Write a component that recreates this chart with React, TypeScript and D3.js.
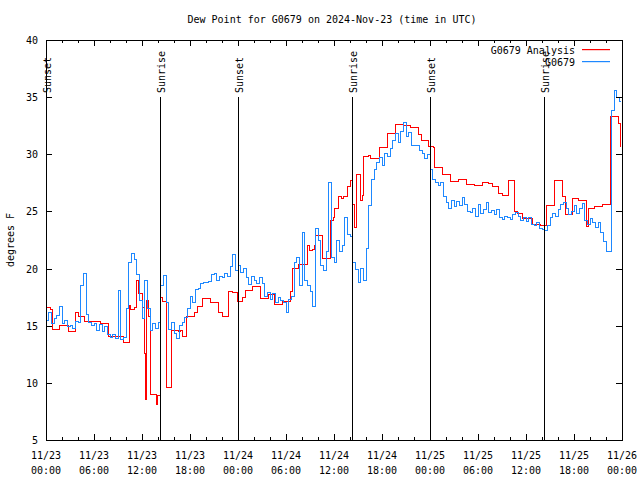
import React from "react";
import * as d3 from "d3";

// ---- data ----
const titleText = "Dew Point for G0679 on 2024-Nov-23 (time in UTC)";
const yLabelText = "degrees F";
const seriesNames = ["G0679 Analysis", "G0679"];
const seriesColors = ["#ff0000", "#1e88ff"];

const xTickHours = [0, 6, 12, 18, 24, 30, 36, 42, 48, 54, 60, 66, 72];
const xTickDates = ["11/23", "11/23", "11/23", "11/23", "11/24", "11/24", "11/24", "11/24", "11/25", "11/25", "11/25", "11/25", "11/26"];
const xTickTimes = ["00:00", "06:00", "12:00", "18:00", "00:00", "06:00", "12:00", "18:00", "00:00", "06:00", "12:00", "18:00", "00:00"];
const yTicks = [5, 10, 15, 20, 25, 30, 35, 40];

const sunLabels = ["Sunset", "Sunrise", "Sunset", "Sunrise", "Sunset", "Sunrise"];
const sunHours = [0, 14.25, 24, 38.25, 48, 62.25];

// observations, every 20 minutes starting 11/23 00:00
const obsStepHours = 1 / 3;
const obsValues = [
  15.5, 16.2, 15.2, 15.6, 15.9, 16.7, 15.2, 15.5, 14.9, 15.0, 14.8, 15.4,
  15.3, 18.5, 19.6, 16.0, 15.3, 15.0, 15.2, 14.6, 15.1, 14.5, 14.9, 14.2,
  14.0, 14.2, 13.9, 18.1, 13.8, 14.0, 16.5, 20.5, 21.3, 20.8, 19.5, 17.2,
  15.6, 19.0, 16.5, 14.6, 15.2, 14.8, 15.3, 18.5, 19.4, 17.0, 14.7, 15.3,
  14.3, 13.9, 15.0, 15.3, 15.7, 16.5, 17.6, 17.0, 18.2, 18.3, 18.7, 18.8,
  18.8, 18.9, 19.5, 19.6, 19.0, 19.3, 19.2, 19.6, 19.3, 20.2, 21.2, 19.8,
  20.3, 19.7, 20.0, 19.2, 18.6, 19.3, 19.0, 18.7, 19.2, 18.7, 17.6, 17.9,
  17.3, 17.8, 17.0, 17.5, 17.2, 17.0, 16.2, 17.3, 17.6, 20.5, 21.0, 18.5,
  23.2, 19.0, 18.5, 18.0, 16.7, 23.5, 22.5, 20.3, 19.8, 21.5, 27.5, 21.0,
  20.5, 22.5, 21.5, 22.0, 24.5, 23.0, 22.8, 20.5, 19.9, 18.8, 20.0, 19.0,
  21.8, 25.5, 27.8, 28.7, 29.3, 29.7, 29.0, 30.1, 29.8, 30.5, 31.2, 31.8,
  31.0, 32.0, 32.8, 31.6, 31.9, 30.8, 30.8, 30.8, 30.3, 30.1, 29.6, 30.0,
  28.7, 27.8, 27.5, 27.3, 27.5, 26.3, 25.8, 25.3, 26.0, 25.4, 25.9, 25.5,
  26.2, 25.6, 25.0, 24.9, 25.3, 24.6, 25.6, 24.8, 25.2, 25.8, 24.9, 25.1,
  24.7, 25.2, 24.5, 24.3, 24.6, 24.5, 24.3, 24.7, 24.9, 24.6, 24.2, 24.5,
  24.1, 24.5, 23.9, 23.8, 24.0, 23.5, 23.4, 23.3, 23.8, 24.5, 24.8, 24.6,
  25.2, 25.6, 25.8, 25.3, 24.7, 25.0, 25.5, 24.8, 25.3, 25.7, 24.2, 23.9,
  24.4, 24.0, 23.6, 24.0, 23.2, 22.4, 21.5, 21.5, 33.8, 35.6, 35.0, 34.6,
];
const obsEndHour = 71.9;

// analysis, value changes (hour since 11/23 00:00 -> value)
const analysisHours = [
  0, 0.5, 0.8, 1.67, 2.75, 3.7, 4.1, 4.8, 6.75, 7.75, 9.67, 10.4, 10.6, 11.0, 11.33, 11.6,
  12.0, 12.3, 12.45, 12.6, 12.8, 13.1, 13.75, 13.9, 14.33, 14.55, 15.1, 15.7, 16.5, 16.75,
  17.1, 17.6, 18.6, 18.9, 19.6, 20.5, 21.5, 22.1, 22.75, 23.25, 23.9, 24.6, 24.9, 25.75,
  26.75, 27.75, 28.6, 29.6, 30.5, 30.75, 31.5, 32.67, 32.9, 33.25, 33.5, 33.7, 34.6, 35.6,
  35.9, 36.1, 36.5, 36.95, 37.2, 37.65, 38.0, 38.3, 38.5, 38.8, 39.25, 39.5, 39.67, 40.3,
  40.5, 41.67, 42.67, 43.7, 44.67, 45.6, 46.6, 46.95, 47.8, 48.4, 48.6, 49.6, 50.6, 51.5,
  52.6, 53.6, 54.6, 55.25, 55.75, 56.6, 57.1, 57.75, 58.5, 58.9, 59.6, 60.75, 61.75, 62.6,
  63.6, 64.6, 64.9, 65.75, 66.6, 67.6, 67.75, 68.6, 69.6, 70.6, 71.5, 71.75, 71.9,
];
const analysisValues = [
  16.6, 16.45, 14.7, 15.0, 14.5, 16.2, 15.85, 15.35, 15.2, 14.1, 13.55, 16.8, 16.4, 16.6, 19.0, 17.8,
  16.6, 12.6, 8.55, 17.25, 15.8, 9.0, 8.15, 8.9, 17.5, 17.1, 9.6, 14.6, 14.5, 14.6,
  14.1, 15.8, 16.2, 16.7, 17.4, 17.0, 16.2, 15.85, 18.0, 17.9, 17.1, 17.5, 18.1, 18.4,
  17.4, 17.7, 16.9, 17.1, 18.0, 20.0, 20.4, 22.0, 21.6, 21.7, 22.0, 22.9, 20.9, 24.25,
  24.5, 25.3, 26.3, 26.1, 26.35, 27.2, 27.7, 25.6, 23.6, 28.2, 26.0, 26.4, 29.8, 29.9,
  29.65, 30.6, 31.8, 32.6, 32.5, 32.35, 31.7, 31.2, 30.65, 30.6, 28.85, 28.2, 27.6, 27.8,
  27.4, 27.3, 27.55, 27.45, 27.2, 26.6, 26.4, 27.75, 25.0, 24.8, 24.4, 23.9, 23.8, 25.5,
  27.75, 26.3, 24.7, 26.15, 26.0, 23.7, 25.3, 25.4, 25.65, 33.3, 32.7, 30.65, 30.65,
];

// ---- layout ----
const W = 640;
const H = 480;
const M = { left: 46, right: 622, top: 40, bottom: 440 };
const FONT = "'DejaVu Sans Mono', monospace";
const FS = 10;

export default function App() {
  const x = d3.scaleLinear().domain([0, 72]).range([M.left, M.right]);
  const y = d3.scaleLinear().domain([5, 40]).range([M.bottom, M.top]);

  const obsPts: [number, number][] = obsValues.map((v, i) => [i * obsStepHours, v]);
  obsPts.push([obsEndHour, obsValues[obsValues.length - 1]]);
  const anaPts: [number, number][] = analysisHours.map((h, i) => [h, analysisValues[i]]);

  const line = d3
    .line<[number, number]>()
    .x((d) => x(d[0]))
    .y((d) => y(d[1]))
    .curve(d3.curveStepAfter);

  const minorX = d3.range(0, 73, 2).filter((h) => h % 6 !== 0);

  const legendX = 575;
  const legendY = [50, 62];

  return (
    <svg
      width={W}
      height={H}
      style={{ position: "absolute", left: 0, top: 0, background: "#fff" }}
      fontFamily={FONT}
      fontSize={FS}
    >
      <rect x={0} y={0} width={W} height={H} fill="#fff" />
      <text x={(M.left + M.right) / 2 - 2} y={23} textAnchor="middle" fill="#000">
        {titleText}
      </text>

      <defs>
        <clipPath id="plotclip">
          <rect x={M.left} y={M.top} width={M.right - M.left} height={M.bottom - M.top} />
        </clipPath>
      </defs>
      <g clipPath="url(#plotclip)">
        <path d={line(anaPts) || ""} fill="none" stroke={seriesColors[0]} strokeWidth={1} shapeRendering="crispEdges" />
        <path d={line(obsPts) || ""} fill="none" stroke={seriesColors[1]} strokeWidth={1} shapeRendering="crispEdges" />
      </g>

      {/* sunrise / sunset markers */}
      {sunHours.map((h, i) => (
        <g key={"sun" + i}>
          <line
            x1={Math.round(x(h)) + 0.5}
            x2={Math.round(x(h)) + 0.5}
            y1={97}
            y2={M.bottom}
            stroke="#000"
            strokeWidth={1}
            shapeRendering="crispEdges"
          />
          <text transform={`translate(${x(h) + 5},93) rotate(-90)`} textAnchor="start" fill="#000">
            {sunLabels[i]}
          </text>
        </g>
      ))}

      {/* frame */}
      <rect
        x={M.left + 0.5}
        y={M.top + 0.5}
        width={M.right - M.left}
        height={M.bottom - M.top}
        fill="none"
        stroke="#000"
        strokeWidth={1}
        shapeRendering="crispEdges"
      />

      {/* x ticks */}
      {xTickHours.map((h, i) => (
        <g key={"xt" + i}>
          <line x1={x(h) + 0.5} x2={x(h) + 0.5} y1={M.bottom} y2={M.bottom - 6} stroke="#000" shapeRendering="crispEdges" />
          <line x1={x(h) + 0.5} x2={x(h) + 0.5} y1={M.top} y2={M.top + 6} stroke="#000" shapeRendering="crispEdges" />
          <text x={x(h)} y={459} textAnchor="middle" fill="#000">
            {xTickDates[i]}
          </text>
          <text x={x(h)} y={474} textAnchor="middle" fill="#000">
            {xTickTimes[i]}
          </text>
        </g>
      ))}
      {minorX.map((h) => (
        <g key={"xm" + h}>
          <line x1={x(h) + 0.5} x2={x(h) + 0.5} y1={M.bottom} y2={M.bottom - 3} stroke="#000" shapeRendering="crispEdges" />
          <line x1={x(h) + 0.5} x2={x(h) + 0.5} y1={M.top} y2={M.top + 3} stroke="#000" shapeRendering="crispEdges" />
        </g>
      ))}

      {/* y ticks */}
      {yTicks.map((v) => (
        <g key={"yt" + v}>
          <line x1={M.left} x2={M.left + 6} y1={y(v) + 0.5} y2={y(v) + 0.5} stroke="#000" shapeRendering="crispEdges" />
          <line x1={M.right} x2={M.right - 6} y1={y(v) + 0.5} y2={y(v) + 0.5} stroke="#000" shapeRendering="crispEdges" />
          <text x={M.left - 8} y={y(v) + 4} textAnchor="end" fill="#000">
            {v}
          </text>
        </g>
      ))}

      <text transform={`translate(14,${(M.top + M.bottom) / 2}) rotate(-90)`} textAnchor="middle" fill="#000">
        {yLabelText}
      </text>

      {/* legend */}
      {seriesNames.map((n, i) => (
        <g key={"lg" + i}>
          <text x={legendX} y={legendY[i] + 4} textAnchor="end" fill="#000">
            {n}
          </text>
          <rect x={582} y={legendY[i] - 1} width={28} height={1.2} fill={seriesColors[i]} />
        </g>
      ))}
    </svg>
  );
}
